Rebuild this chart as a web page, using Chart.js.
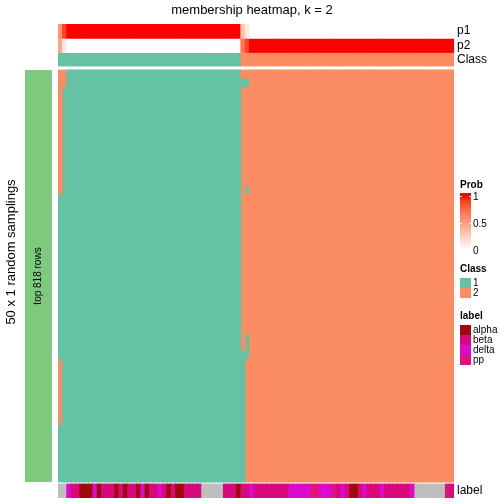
<!DOCTYPE html>
<html>
<head>
<meta charset="utf-8">
<script src="https://cdn.jsdelivr.net/npm/chart.js@4.4.0/dist/chart.umd.min.js"></script>
<style>
  html, body { margin: 0; padding: 0; background: #fff; }
</style>
</head>
<body>
<canvas id="heatmap" width="504" height="504"></canvas>
<script>
// 91 samples, class 1 first (42), then class 2 (49)
const p1 = [
  0.55, 0.88,
  1, 1, 1, 1, 1, 1, 1, 1, 1, 1,
  1, 1, 1, 1, 1, 1, 1, 1, 1, 1,
  1, 1, 1, 1, 1, 1, 1, 1, 1, 1,
  1, 1, 1, 1, 1, 1, 1, 1, 1, 1,
  0.3, 0.12,
  0, 0, 0, 0, 0, 0, 0, 0, 0, 0,
  0, 0, 0, 0, 0, 0, 0, 0, 0, 0,
  0, 0, 0, 0, 0, 0, 0, 0, 0, 0,
  0, 0, 0, 0, 0, 0, 0, 0, 0, 0,
  0, 0, 0, 0, 0, 0, 0
];
const p2 = [
  0.45, 0.12,
  0, 0, 0, 0, 0, 0, 0, 0, 0, 0,
  0, 0, 0, 0, 0, 0, 0, 0, 0, 0,
  0, 0, 0, 0, 0, 0, 0, 0, 0, 0,
  0, 0, 0, 0, 0, 0, 0, 0, 0, 0,
  0.7, 0.88,
  1, 1, 1, 1, 1, 1, 1, 1, 1, 1,
  1, 1, 1, 1, 1, 1, 1, 1, 1, 1,
  1, 1, 1, 1, 1, 1, 1, 1, 1, 1,
  1, 1, 1, 1, 1, 1, 1, 1, 1, 1,
  1, 1, 1, 1, 1, 1, 1
];
const sampleLabels = [
  'NA', 'NA', 'delta', 'beta', 'beta', 'alpha', 'alpha', 'alpha', 'delta', 'alpha',
  'beta', 'beta', 'beta', 'alpha', 'beta', 'alpha', 'beta', 'beta', 'alpha', 'delta',
  'alpha', 'beta', 'beta', 'delta', 'beta', 'alpha', 'beta', 'alpha', 'alpha', 'beta',
  'beta', 'beta', 'beta', 'NA', 'NA', 'NA', 'NA', 'NA', 'beta', 'beta',
  'beta', 'alpha', 'beta', 'beta', 'delta', 'beta', 'beta', 'beta', 'beta', 'beta',
  'beta', 'beta', 'beta', 'delta', 'delta', 'delta', 'delta', 'delta', 'pp', 'pp',
  'delta', 'delta', 'delta', 'pp', 'beta', 'delta', 'beta', 'alpha', 'alpha', 'beta',
  'delta', 'beta', 'beta', 'beta', 'delta', 'beta', 'beta', 'beta', 'beta', 'beta',
  'beta', 'delta', 'NA', 'NA', 'NA', 'NA', 'NA', 'NA', 'NA', 'pp',
  'beta'
];
// one string per random sampling (50), one char per sample = class given in that run
const memberships = [
  '2211111111 1111111111 1111111111 1111111111 1122222222 2222222222 2222222222 2222222222 2222222222 2',
  '2211111111 1111111111 1111111111 1111111111 1111222222 2222222222 2222222222 2222222222 2222222222 2',
  '2111111111 1111111111 1111111111 1111111111 1122222222 2222222222 2222222222 2222222222 2222222222 2',
  '2111111111 1111111111 1111111111 1111111111 1122222222 2222222222 2222222222 2222222222 2222222222 2',
  '2111111111 1111111111 1111111111 1111111111 1122222222 2222222222 2222222222 2222222222 2222222222 2',
  '2111111111 1111111111 1111111111 1111111111 1122222222 2222222222 2222222222 2222222222 2222222222 2',
  '2111111111 1111111111 1111111111 1111111111 1122222222 2222222222 2222222222 2222222222 2222222222 2',
  '2111111111 1111111111 1111111111 1111111111 1122222222 2222222222 2222222222 2222222222 2222222222 2',
  '2111111111 1111111111 1111111111 1111111111 1122222222 2222222222 2222222222 2222222222 2222222222 2',
  '2111111111 1111111111 1111111111 1111111111 1122222222 2222222222 2222222222 2222222222 2222222222 2',
  '2111111111 1111111111 1111111111 1111111111 1122222222 2222222222 2222222222 2222222222 2222222222 2',
  '2111111111 1111111111 1111111111 1111111111 1122222222 2222222222 2222222222 2222222222 2222222222 2',
  '2111111111 1111111111 1111111111 1111111111 1122222222 2222222222 2222222222 2222222222 2222222222 2',
  '2111111111 1111111111 1111111111 1111111111 1122222222 2222222222 2222222222 2222222222 2222222222 2',
  '2111111111 1111111111 1111111111 1111111111 1121222222 2222222222 2222222222 2222222222 2222222222 2',
  '1111111111 1111111111 1111111111 1111111111 1122222222 2222222222 2222222222 2222222222 2222222222 2',
  '1111111111 1111111111 1111111111 1111111111 1122222222 2222222222 2222222222 2222222222 2222222222 2',
  '1111111111 1111111111 1111111111 1111111111 1122222222 2222222222 2222222222 2222222222 2222222222 2',
  '1111111111 1111111111 1111111111 1111111111 1122222222 2222222222 2222222222 2222222222 2222222222 2',
  '1111111111 1111111111 1111111111 1111111111 1122222222 2222222222 2222222222 2222222222 2222222222 2',
  '1111111111 1111111111 1111111111 1111111111 1122222222 2222222222 2222222222 2222222222 2222222222 2',
  '1111111111 1111111111 1111111111 1111111111 1122222222 2222222222 2222222222 2222222222 2222222222 2',
  '1111111111 1111111111 1111111111 1111111111 1122222222 2222222222 2222222222 2222222222 2222222222 2',
  '1111111111 1111111111 1111111111 1111111111 1122222222 2222222222 2222222222 2222222222 2222222222 2',
  '1111111111 1111111111 1111111111 1111111111 1122222222 2222222222 2222222222 2222222222 2222222222 2',
  '1111111111 1111111111 1111111111 1111111111 1122222222 2222222222 2222222222 2222222222 2222222222 2',
  '1111111111 1111111111 1111111111 1111111111 1122222222 2222222222 2222222222 2222222222 2222222222 2',
  '1111111111 1111111111 1111111111 1111111111 1122222222 2222222222 2222222222 2222222222 2222222222 2',
  '1111111111 1111111111 1111111111 1111111111 1122222222 2222222222 2222222222 2222222222 2222222222 2',
  '1111111111 1111111111 1111111111 1111111111 1122222222 2222222222 2222222222 2222222222 2222222222 2',
  '1111111111 1111111111 1111111111 1111111111 1122222222 2222222222 2222222222 2222222222 2222222222 2',
  '1111111111 1111111111 1111111111 1111111111 1122222222 2222222222 2222222222 2222222222 2222222222 2',
  '1111111111 1111111111 1111111111 1111111111 1121222222 2222222222 2222222222 2222222222 2222222222 2',
  '1111111111 1111111111 1111111111 1111111111 1121222222 2222222222 2222222222 2222222222 2222222222 2',
  '1111111111 1111111111 1111111111 1111111111 1111222222 2222222222 2222222222 2222222222 2222222222 2',
  '2111111111 1111111111 1111111111 1111111111 1112222222 2222222222 2222222222 2222222222 2222222222 2',
  '2111111111 1111111111 1111111111 1111111111 1112222222 2222222222 2222222222 2222222222 2222222222 2',
  '2111111111 1111111111 1111111111 1111111111 1112222222 2222222222 2222222222 2222222222 2222222222 2',
  '2111111111 1111111111 1111111111 1111111111 1112222222 2222222222 2222222222 2222222222 2222222222 2',
  '2111111111 1111111111 1111111111 1111111111 1112222222 2222222222 2222222222 2222222222 2222222222 2',
  '2111111111 1111111111 1111111111 1111111111 1112222222 2222222222 2222222222 2222222222 2222222222 2',
  '2111111111 1111111111 1111111111 1111111111 1112222222 2222222222 2222222222 2222222222 2222222222 2',
  '2111111111 1111111111 1111111111 1111111111 1112222222 2222222222 2222222222 2222222222 2222222222 2',
  '1111111111 1111111111 1111111111 1111111111 1112222222 2222222222 2222222222 2222222222 2222222222 2',
  '1111111111 1111111111 1111111111 1111111111 1112222222 2222222222 2222222222 2222222222 2222222222 2',
  '1111111111 1111111111 1111111111 1111111111 1112222222 2222222222 2222222222 2222222222 2222222222 2',
  '1111111111 1111111111 1111111111 1111111111 1112222222 2222222222 2222222222 2222222222 2222222222 2',
  '1111111111 1111111111 1111111111 1111111111 1112222222 2222222222 2222222222 2222222222 2222222222 2',
  '1111111111 1111111111 1111111111 1111111111 1112222222 2222222222 2222222222 2222222222 2222222222 2',
  '1111111111 1111111111 1111111111 1111111111 1112222222 2222222222 2222222222 2222222222 2222222222 2'
];
const labelLevels = ['alpha', 'beta', 'delta', 'pp'];
const classLevels = ['1', '2'];
const probTicks = [1, 0.5, 0];

const classColors = { '1': '#66C2A5', '2': '#FC8D62' };
const labelColors = { alpha: '#9E0A0A', beta: '#D9087C', delta: '#D90BCF', pp: '#E0127E', NA: '#BEBEBE' };
const FONT = "'Liberation Sans', Arial, Helvetica, sans-serif";

// vertical layout of the tracks (canvas pixels, the y scale runs 24..498)
const tracks = { p1: [24, 38.3], p2: [38.3, 52.5], cls: [53, 66], main: [70, 482], label: [484, 498] };

// white -> red in LAB, like colorRamp2
function toLin(c) { c /= 255; return c <= 0.04045 ? c / 12.92 : Math.pow((c + 0.055) / 1.055, 2.4); }
function fromLin(c) {
  const v = c <= 0.0031308 ? 12.92 * c : 1.055 * Math.pow(c, 1 / 2.4) - 0.055;
  return Math.round(Math.max(0, Math.min(1, v)) * 255);
}
function rgbToLab(rgb) {
  const R = toLin(rgb[0]), G = toLin(rgb[1]), B = toLin(rgb[2]);
  const X = (0.4124 * R + 0.3576 * G + 0.1805 * B) / 0.95047;
  const Y = 0.2126 * R + 0.7152 * G + 0.0722 * B;
  const Z = (0.0193 * R + 0.1192 * G + 0.9505 * B) / 1.08883;
  const f = t => t > 0.008856 ? Math.cbrt(t) : 7.787 * t + 16 / 116;
  return [116 * f(Y) - 16, 500 * (f(X) - f(Y)), 200 * (f(Y) - f(Z))];
}
function labToRgb(lab) {
  const fy = (lab[0] + 16) / 116, fx = fy + lab[1] / 500, fz = fy - lab[2] / 200;
  const inv = t => t > 0.206893 ? t * t * t : (t - 16 / 116) / 7.787;
  const X = inv(fx) * 0.95047, Y = inv(fy), Z = inv(fz) * 1.08883;
  return [
    fromLin(3.2406 * X - 1.5372 * Y - 0.4986 * Z),
    fromLin(-0.9689 * X + 1.8758 * Y + 0.0415 * Z),
    fromLin(0.0557 * X - 0.2040 * Y + 1.0570 * Z)
  ];
}
const labWhite = rgbToLab([255, 255, 255]);
const labRed = rgbToLab([255, 0, 0]);
function probColor(t) {
  const lab = labWhite.map((v, i) => v + (labRed[i] - v) * t);
  const c = labToRgb(lab);
  return 'rgb(' + c.join(',') + ')';
}

const columns = p1.map((v, i) => String(i + 1));
const colClass = p1.map(v => v >= 0.5 ? '1' : '2');
const rows = memberships.map(s => s.replace(/ /g, ''));
const rowH = (tracks.main[1] - tracks.main[0]) / rows.length;

function bar(extra) {
  return Object.assign({
    barPercentage: 1, categoryPercentage: 1, borderWidth: 0, inflateAmount: 0.4
  }, extra);
}

const datasets = [];
datasets.push(bar({ label: 'p1', data: p1.map(() => tracks.p1), backgroundColor: p1.map(probColor) }));
datasets.push(bar({ label: 'p2', data: p2.map(() => tracks.p2), backgroundColor: p2.map(probColor) }));
datasets.push(bar({ label: 'Class', data: colClass.map(() => tracks.cls), backgroundColor: colClass.map(c => classColors[c]) }));

// main body: merge consecutive samplings with the same class into one bar per run
const runs = columns.map((c, j) => {
  const out = [];
  rows.forEach((s, r) => {
    const last = out[out.length - 1];
    if (last && last.cls === s[j]) last.end = r;
    else out.push({ cls: s[j], start: r, end: r });
  });
  return out;
});
const maxRuns = Math.max(...runs.map(r => r.length));
for (let k = 0; k < maxRuns; k++) {
  datasets.push(bar({
    label: 'run' + k,
    data: runs.map(r => r[k] ? [tracks.main[0] + r[k].start * rowH, tracks.main[0] + (r[k].end + 1) * rowH] : null),
    backgroundColor: runs.map(r => r[k] ? classColors[r[k].cls] : 'rgba(0,0,0,0)')
  }));
}
datasets.push(bar({ label: 'label', data: sampleLabels.map(() => tracks.label), backgroundColor: sampleLabels.map(l => labelColors[l]) }));

const decorations = {
  id: 'decorations',
  afterDraw(chart) {
    const ctx = chart.ctx;
    const y = chart.scales.y;
    const mid = t => (y.getPixelForValue(t[0]) + y.getPixelForValue(t[1])) / 2;
    ctx.save();
    ctx.fillStyle = '#000';
    ctx.textBaseline = 'middle';

    ctx.font = '13px ' + FONT;
    ctx.textAlign = 'center';
    ctx.fillText('membership heatmap, k = 2', 252, 10);

    ctx.font = '12px ' + FONT;
    ctx.textAlign = 'left';
    ctx.fillText('p1', 457, mid(tracks.p1));
    ctx.fillText('p2', 457, mid(tracks.p2));
    ctx.fillText('Class', 457, mid(tracks.cls));
    ctx.fillText('label', 457, mid(tracks.label));

    // row split bar on the left
    const top = y.getPixelForValue(tracks.main[0]);
    const bot = y.getPixelForValue(tracks.main[1]);
    ctx.fillStyle = '#7FC97F';
    ctx.fillRect(25, top, 27, bot - top);
    ctx.fillStyle = '#000';
    ctx.save();
    ctx.translate(38.5, (top + bot) / 2);
    ctx.rotate(-Math.PI / 2);
    ctx.textAlign = 'center';
    ctx.font = '10px ' + FONT;
    ctx.fillText('top 818 rows', 0, 0);
    ctx.restore();
    ctx.save();
    ctx.translate(11, 252);
    ctx.rotate(-Math.PI / 2);
    ctx.textAlign = 'center';
    ctx.font = '13px ' + FONT;
    ctx.fillText('50 x 1 random samplings', 0, 0);
    ctx.restore();

    // legends
    const lx = 460;
    ctx.textAlign = 'left';
    ctx.font = 'bold 10px ' + FONT;
    ctx.fillText('Prob', lx, 185);
    const gTop = 193, gBot = 251;
    const tTop = 196, tBot = 250;
    const grad = ctx.createLinearGradient(0, tBot, 0, tTop);
    for (let i = 0; i <= 20; i++) grad.addColorStop(i / 20, probColor(i / 20));
    ctx.fillStyle = grad;
    ctx.fillRect(lx, gTop, 11, gBot - gTop);
    ctx.font = '10px ' + FONT;
    probTicks.forEach(t => {
      const py = tBot - t * (tBot - tTop);
      ctx.strokeStyle = 'rgba(255,255,255,0.8)';
      ctx.lineWidth = 1;
      ctx.beginPath();
      ctx.moveTo(lx, Math.round(py) + 0.5); ctx.lineTo(lx + 2, Math.round(py) + 0.5);
      ctx.moveTo(lx + 9, Math.round(py) + 0.5); ctx.lineTo(lx + 11, Math.round(py) + 0.5);
      ctx.stroke();
      ctx.fillStyle = '#000';
      ctx.fillText(String(t), lx + 13, py + 1);
    });

    ctx.font = 'bold 10px ' + FONT;
    ctx.fillText('Class', lx, 269);
    ctx.font = '10px ' + FONT;
    classLevels.forEach((c, i) => {
      ctx.fillStyle = classColors[c];
      ctx.fillRect(lx, 278 + i * 10, 11, 10);
      ctx.fillStyle = '#000';
      ctx.fillText(c, lx + 13, 283.5 + i * 10);
    });

    ctx.font = 'bold 10px ' + FONT;
    ctx.fillText('label', lx, 316);
    ctx.font = '10px ' + FONT;
    labelLevels.forEach((l, i) => {
      ctx.fillStyle = labelColors[l];
      ctx.fillRect(lx, 325 + i * 10, 11, 10);
      ctx.fillStyle = '#000';
      ctx.fillText(l, lx + 13, 330.5 + i * 10);
    });
    ctx.restore();
  }
};

const ctx = document.getElementById('heatmap').getContext('2d');
const heatmap = new Chart(ctx, {
  type: 'bar',
  data: { labels: columns, datasets: datasets },
  options: {
    responsive: false,
    animation: false,
    layout: { padding: { left: 58, right: 50, top: 24, bottom: 6 } },
    plugins: { legend: { display: false }, tooltip: { enabled: false } },
    scales: {
      x: { display: false, stacked: true, offset: true },
      y: { display: false, stacked: false, reverse: true, min: 24, max: 498 }
    }
  },
  plugins: [decorations]
});
</script>
</body>
</html>
